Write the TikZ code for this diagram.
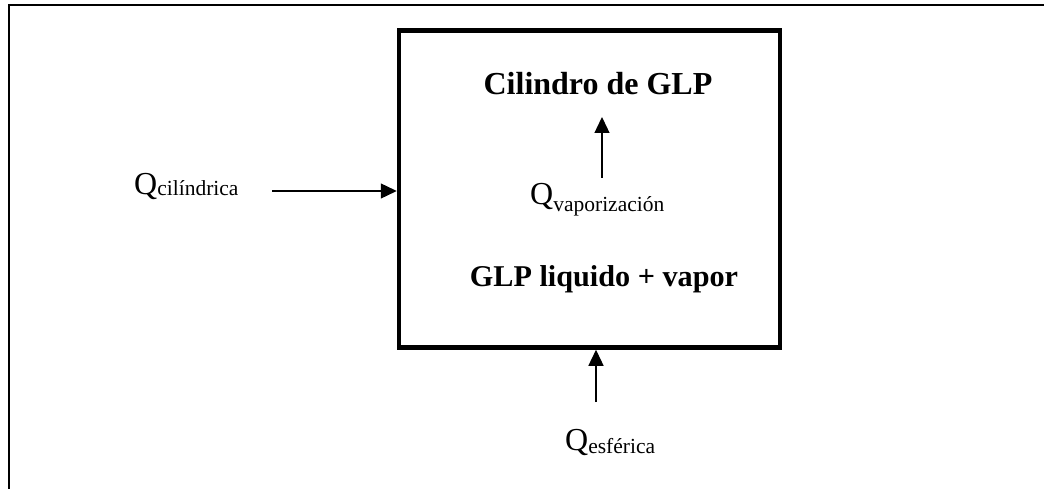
\documentclass[tikz,border=0pt]{standalone}
\usepackage{fontspec}
\setmainfont{Liberation Serif}
\usetikzlibrary{arrows.meta}
\tikzset{
  frameline/.style={line width=2pt, line cap=rect},
  tankbox/.style={draw, line width=4.5pt, minimum width=381pt, minimum height=317pt, inner sep=0pt},
  title/.style={font=\fontsize{32}{32}\selectfont\bfseries, inner sep=0pt, anchor=base},
  qlabel/.style={inner sep=0pt, anchor=base west},
  flow/.style={line width=1.3pt, -{Triangle[length=16pt,width=15pt]}}
}
\newcommand{\qbig}{\fontsize{32}{32}\selectfont Q}
\newcommand{\qsub}[2]{{\fontsize{21.5}{21.5}\selectfont\raisebox{#1}{#2}}}
\begin{document}
\begin{tikzpicture}[x=1pt,y=-1pt]
\useasboundingbox (0,0) rectangle (1044,489);
\coordinate (ftl) at (9,5);
\coordinate (ftr) at (1044,5);
\coordinate (fbl) at (9,489);
\draw[frameline] (fbl) -- (ftl) -- (ftr);
\node[tankbox] (tank) at (589.5,189) {};
\node[title] (t1) at (598,95) {Cilindro de GLP};
\node[title, font=\fontsize{30.2}{30}\selectfont\bfseries] (t2) at (604,286) {GLP liquido + vapor};
\node[qlabel] (qc) at (134,195) {\qbig\qsub{-1pt}{cilíndrica}};
\node[qlabel] (qv) at (530,205) {\qbig\qsub{-7pt}{vaporización}};
\node[qlabel] (qe) at (565,450) {\qbig\qsub{-3pt}{esférica}};
\coordinate (cl) at (272,191);
\coordinate (cv) at (602,178);
\coordinate (cvt) at (602,117);
\coordinate (ce) at (596,402);
\draw[flow] (cl) -- (cl -| tank.west);
\draw[flow] (cv) -- (cvt);
\draw[flow] (ce) -- (ce |- tank.south);
\end{tikzpicture}
\end{document}
